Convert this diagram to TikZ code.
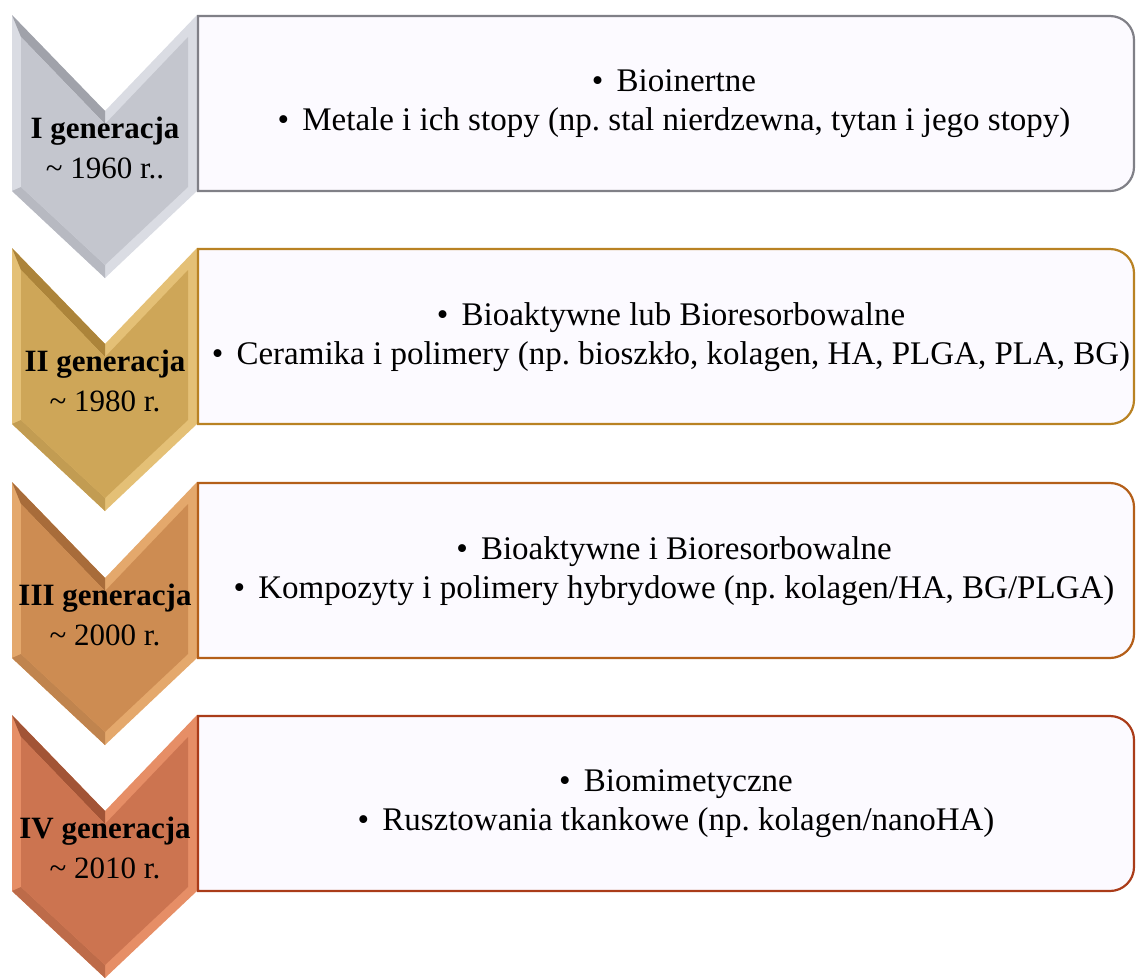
\documentclass[tikz,border=0pt]{standalone}
\usepackage{fontspec}
\setmainfont{Liberation Serif}
\usetikzlibrary{positioning}
\frenchspacing
\definecolor{boxfill}{RGB}{252,250,255}
\definecolor{faceI}{RGB}{196,198,206}
\definecolor{rimI}{RGB}{218,220,227}
\definecolor{darkI}{RGB}{160,162,170}
\definecolor{lineI}{RGB}{128,128,135}
\definecolor{faceII}{RGB}{206,166,88}
\definecolor{rimII}{RGB}{228,192,118}
\definecolor{darkII}{RGB}{172,132,58}
\definecolor{lineII}{RGB}{185,130,35}
\definecolor{faceIII}{RGB}{205,140,82}
\definecolor{rimIII}{RGB}{228,168,108}
\definecolor{darkIII}{RGB}{168,108,58}
\definecolor{lineIII}{RGB}{180,95,25}
\definecolor{faceIV}{RGB}{204,116,80}
\definecolor{rimIV}{RGB}{230,142,102}
\definecolor{darkIV}{RGB}{162,84,54}
\definecolor{lineIV}{RGB}{170,60,25}
\tikzstyle{boxtext} = [align = center, inner sep = 0,
  font = \fontsize{33}{39}\selectfont]
\tikzstyle{gentext} = [align = center, inner sep = 0,
  font = \fontsize{31}{40}\selectfont]
\newcommand{\itm}{\textbullet\hspace{0.4em}}
% chevron: rim, dark facet, face
\newcommand{\chevron}[3]{
  \fill [#1] (12, 0) -- (105, 96) -- (197, 0) -- (197, 176) -- (105, 263) --
    (12, 176) -- cycle;
  \fill [#2] (12, 0) -- (105, 96) -- (105, 109) -- (21, 22) -- cycle;
  \fill [#2!60!#1] (12, 176) -- (105, 263) -- (105, 250) -- (21, 172) -- cycle;
  \fill [#3] (21, 22) -- (105, 109) -- (188, 22) -- (188, 172) -- (105, 250) --
    (21, 172) -- cycle;
}
% box with rounded right corners
\newcommand{\genbox}[1]{
  \draw [line width = 2.2, draw = #1, fill = boxfill] (198, 1) -- (1110, 1)
    arc [start angle = -90, end angle = 0, radius = 24] -- (1134, 152)
    arc [start angle = 0, end angle = 90, radius = 24] -- (198, 176) -- cycle;
}

\begin{document}
\begin{tikzpicture}[x = 1pt, y = -1pt]
  \useasboundingbox (0, 0) rectangle (1136, 978);
  % I
  \begin{scope}[yshift = -15pt]
    \chevron{rimI}{darkI}{faceI}
    \genbox{lineI}
    \node [gentext] (gen-1) at (105, 133)
      {\textbf{I generacja}\\\textasciitilde\ 1960 r..};
    \node [boxtext] (text-1) at (674, 89)
      {\itm Bioinertne\\
       \itm Metale i ich stopy (np. stal nierdzewna, tytan i jego stopy)};
  \end{scope}
  % II
  \begin{scope}[yshift = -248pt]
    \chevron{rimII}{darkII}{faceII}
    \genbox{lineII}
    \node [gentext] (gen-2) at (105, 133)
      {\textbf{II generacja}\\\textasciitilde\ 1980 r.};
    \node [boxtext] (text-2) at (671, 89)
      {\itm Bioaktywne lub Bioresorbowalne\\
       \itm Ceramika i polimery (np. bioszkło, kolagen, HA, PLGA, PLA, BG)};
  \end{scope}
  % III
  \begin{scope}[yshift = -482pt]
    \chevron{rimIII}{darkIII}{faceIII}
    \genbox{lineIII}
    \node [gentext] (gen-3) at (105, 133)
      {\textbf{III generacja}\\\textasciitilde\ 2000 r.};
    \node [boxtext] (text-3) at (674, 89)
      {\itm Bioaktywne i Bioresorbowalne\\
       \itm Kompozyty i polimery hybrydowe (np. kolagen/HA, BG/PLGA)};
  \end{scope}
  % IV
  \begin{scope}[yshift = -715pt]
    \chevron{rimIV}{darkIV}{faceIV}
    \genbox{lineIV}
    \node [gentext] (gen-4) at (105, 133)
      {\textbf{IV generacja}\\\textasciitilde\ 2010 r.};
    \node [boxtext] (text-4) at (676, 89)
      {\itm Biomimetyczne\\
       \itm Rusztowania tkankowe (np. kolagen/nanoHA)};
  \end{scope}
\end{tikzpicture}
\end{document}
